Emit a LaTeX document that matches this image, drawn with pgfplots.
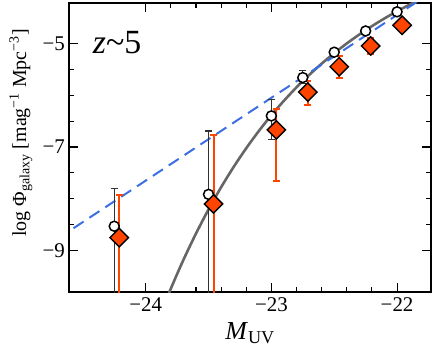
\documentclass[border=0pt]{standalone}
\usepackage{fontspec}
\setmainfont{Liberation Serif}
\usepackage{pgfplots}
\pgfplotsset{compat=1.18}
\definecolor{lfred}{RGB}{255,68,0}
\definecolor{lfblue}{RGB}{60,110,228}
\definecolor{lfgray}{RGB}{102,102,102}
\definecolor{errgray}{RGB}{50,50,50}

\begin{document}
\begin{tikzpicture}
\begin{axis}[
    scale only axis,
    width=362bp, height=289bp,
    xmin=-24.61, xmax=-21.73,
    ymin=-9.80, ymax=-4.22,
    xtick={-24,-23,-22}, xticklabels={−24,−23,−22},
    ytick={-9,-7,-5}, yticklabels={−9,−7,−5},
    minor x tick num=4, minor y tick num=3,
    tick align=inside,
    major tick length=9bp, minor tick length=5bp,
    every tick/.style={black, line width=1.1bp},
    axis line style={line width=2.5bp},
    ticklabel style={font=\fontsize{21}{21}\selectfont, inner sep=0pt},
    xticklabel style={anchor=north, yshift=-5bp},
    yticklabel style={anchor=east, xshift=-4bp},
    xlabel={\textit{M}\textsubscript{UV}},
    ylabel={log Φ\textsubscript{galaxy} [mag\textsuperscript{−1} Mpc\textsuperscript{−3}]},
    xlabel style={font=\fontsize{26}{26}\selectfont, at={(axis description cs:0.5,-0.143)}, anchor=center},
    ylabel style={font=\fontsize{20}{20}\selectfont, at={(axis description cs:-0.133,0.55)}, anchor=center},
]

% Schechter fit
\addplot[lfgray, line width=2.6bp, smooth] coordinates {
    (-23.9,-10.343)(-23.8,-9.737)(-23.7,-9.181)(-23.6,-8.673)(-23.5,-8.206)
    (-23.4,-7.778)(-23.3,-7.385)(-23.2,-7.024)(-23.1,-6.692)(-23.0,-6.387)
    (-22.9,-6.107)(-22.8,-5.848)(-22.7,-5.611)(-22.6,-5.391)(-22.5,-5.189)
    (-22.4,-5.001)(-22.3,-4.828)(-22.2,-4.667)(-22.1,-4.518)(-22.0,-4.380)
    (-21.9,-4.252)(-21.8,-4.132)(-21.7,-4.020)
};

% power law
\addplot[lfblue, line width=2bp, dash pattern=on 12bp off 7bp] coordinates {
    (-24.7,-8.77)(-21.6,-3.81)
};

% open circles
\addplot[
    only marks, mark=*, mark size=5bp,
    mark options={fill=white, draw=black, line width=1.5bp},
    error bars/.cd, y dir=both, y explicit,
    error bar style={errgray, line width=1.3bp},
    error mark options={rotate=90, errgray, line width=1.3bp, mark size=3.5bp},
] coordinates {
    (-24.25,-8.53) += (0,0.73) -= (0,3)
    (-23.50,-7.915) += (0,1.225) -= (0,3)
    (-23.00,-6.40) += (0,0.32) -= (0,0.45)
    (-22.75,-5.66) += (0,0.13) -= (0,0.12)
    (-22.50,-5.17) += (0,0.05) -= (0,0.05)
    (-22.25,-4.76) += (0,0.05) -= (0,0.05)
    (-22.00,-4.39) += (0,0.07) -= (0,0.06)
};

% diamonds
\addplot[
    only marks, mark=square*, mark size=6.5bp,
    mark options={fill=lfred, draw=black, line width=1.4bp, rotate=45},
    error bars/.cd, y dir=both, y explicit,
    error bar style={lfred, line width=2bp},
    error mark options={rotate=90, lfred, line width=2bp, mark size=3.5bp},
] coordinates {
    (-24.21,-8.75) += (0,0.82) -= (0,3)
    (-23.46,-8.10) += (0,1.33) -= (0,3)
    (-22.96,-6.67) += (0,0.40) -= (0,0.99)
    (-22.71,-5.94) += (0,0.21) -= (0,0.25)
    (-22.46,-5.45) += (0,0.21) -= (0,0.21)
    (-22.21,-5.05) += (0,0.15) -= (0,0.15)
    (-21.96,-4.65) += (0,0.08) -= (0,0.08)
};

\node at (axis cs:-24.227,-4.975) {\fontsize{34}{34}\selectfont\textit{z}\textasciitilde5};
\end{axis}
\path (current axis.south west) ++(-69bp,-55bp);
\path (current axis.north east) ++(5bp,3bp);
\end{tikzpicture}
\end{document}
